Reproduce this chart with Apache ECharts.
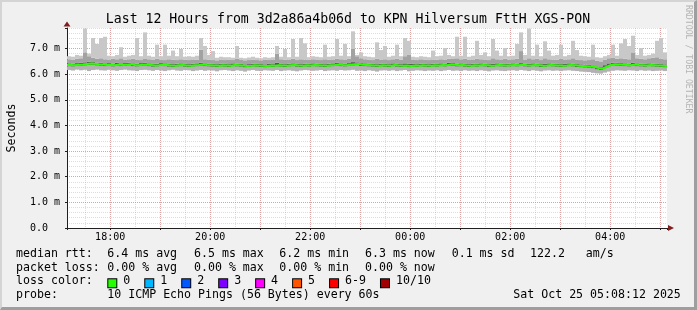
<!DOCTYPE html>
<html><head><meta charset="utf-8">
<script src="https://cdn.jsdelivr.net/npm/echarts@6/dist/echarts.min.js"></script>
<style>
html,body{margin:0;padding:0;background:#f0f0f0;}
#wrap{position:relative;width:697px;height:310px;overflow:hidden;}
#chart{position:absolute;left:0;top:0;width:697px;height:310px;}
#frame{position:absolute;left:0;top:0;width:697px;height:310px;box-sizing:border-box;border-style:solid;border-width:2px 3px 3px 2px;border-color:#d4d4d4 #9e9e9e #9e9e9e #d4d4d4;pointer-events:none;}
</style></head>
<body><div id="wrap"><div id="chart"></div><div id="frame"></div></div>
<script>
// time in hours after Oct 24 00:00 ; 17:08:12 -> 05:08:12 next day
const START = 17 + 8/60 + 12/3600;
const END = START + 12;
const STEP = 0.08; // 4.8 minutes per sample

const medianRtt = [
6.36,6.35,6.37,6.38,6.40,6.42,6.41,6.39,6.38,6.36,
6.37,6.35,6.38,6.36,6.37,6.39,6.36,6.35,6.37,6.38,
6.36,6.34,6.35,6.37,6.36,6.34,6.33,6.35,6.36,6.34,
6.33,6.35,6.36,6.38,6.36,6.35,6.34,6.33,6.35,6.34,
6.33,6.36,6.35,6.34,6.32,6.33,6.35,6.34,6.33,6.32,
6.34,6.33,6.35,6.34,6.33,6.35,6.36,6.34,6.33,6.35,
6.34,6.36,6.35,6.34,6.33,6.35,6.36,6.38,6.36,6.35,
6.37,6.39,6.40,6.37,6.36,6.35,6.34,6.33,6.35,6.34,
6.33,6.36,6.34,6.33,6.34,6.32,6.34,6.33,6.35,6.34,
6.33,6.35,6.34,6.36,6.35,6.38,6.37,6.35,6.36,6.34,
6.33,6.35,6.34,6.36,6.35,6.33,6.34,6.36,6.35,6.34,
6.35,6.36,6.35,6.37,6.35,6.34,6.36,6.35,6.33,6.34,
6.36,6.35,6.34,6.33,6.34,6.36,6.35,6.33,6.32,6.31,
6.30,6.28,6.24,6.22,6.29,6.36,6.39,6.38,6.37,6.36,
6.35,6.38,6.36,6.35,6.34,6.36,6.35,6.34,6.33,6.32];

const pingMin = [
6.16,6.14,6.18,6.15,6.17,6.12,6.16,6.18,6.15,6.14,
6.17,6.15,6.13,6.16,6.18,6.15,6.14,6.12,6.16,6.17,
6.15,6.13,6.16,6.14,6.12,6.15,6.17,6.14,6.13,6.16,
6.15,6.12,6.14,6.16,6.13,6.15,6.14,6.11,6.15,6.16,
6.14,6.12,6.15,6.13,6.10,6.14,6.16,6.13,6.12,6.15,
6.14,6.13,6.16,6.12,6.14,6.15,6.13,6.11,6.14,6.16,
6.15,6.13,6.14,6.16,6.12,6.14,6.15,6.13,6.16,6.14,
6.15,6.17,6.13,6.14,6.12,6.15,6.13,6.10,6.14,6.15,
6.13,6.15,6.12,6.14,6.16,6.11,6.13,6.15,6.14,6.12,
6.14,6.13,6.15,6.12,6.14,6.16,6.13,6.14,6.12,6.15,
6.13,6.14,6.12,6.15,6.13,6.11,6.14,6.15,6.13,6.12,
6.14,6.15,6.13,6.16,6.14,6.12,6.15,6.13,6.11,6.14,
6.15,6.13,6.14,6.12,6.14,6.15,6.13,6.12,6.10,6.09,
6.08,6.05,6.03,6.02,6.06,6.10,6.13,6.15,6.14,6.13,
6.15,6.14,6.12,6.15,6.13,6.14,6.12,6.13,6.14,6.12];

const pingQ1 = [
6.31,6.30,6.32,6.33,6.34,6.36,6.36,6.34,6.33,6.31,
6.32,6.30,6.33,6.31,6.32,6.34,6.31,6.30,6.32,6.33,
6.31,6.29,6.30,6.32,6.31,6.29,6.28,6.30,6.31,6.29,
6.28,6.30,6.31,6.33,6.31,6.30,6.29,6.28,6.30,6.29,
6.28,6.31,6.30,6.29,6.27,6.28,6.30,6.29,6.28,6.27,
6.29,6.28,6.30,6.29,6.28,6.30,6.31,6.29,6.28,6.30,
6.29,6.31,6.30,6.29,6.28,6.30,6.31,6.33,6.31,6.30,
6.32,6.34,6.35,6.32,6.31,6.30,6.29,6.28,6.30,6.29,
6.28,6.31,6.29,6.28,6.29,6.27,6.29,6.28,6.30,6.29,
6.28,6.30,6.29,6.31,6.30,6.33,6.32,6.30,6.31,6.29,
6.28,6.30,6.29,6.31,6.30,6.28,6.29,6.31,6.30,6.29,
6.30,6.31,6.30,6.32,6.30,6.29,6.31,6.30,6.28,6.29,
6.31,6.30,6.29,6.28,6.29,6.31,6.30,6.28,6.27,6.26,
6.25,6.23,6.19,6.17,6.24,6.31,6.34,6.33,6.32,6.31,
6.30,6.33,6.31,6.30,6.29,6.31,6.30,6.29,6.28,6.27];

const pingQ3 = [
6.42,6.41,6.43,6.44,6.46,6.49,6.47,6.45,6.44,6.42,
6.43,6.41,6.44,6.42,6.43,6.45,6.42,6.41,6.43,6.44,
6.42,6.40,6.41,6.43,6.42,6.40,6.39,6.41,6.42,6.40,
6.39,6.41,6.42,6.45,6.42,6.41,6.40,6.39,6.41,6.40,
6.39,6.42,6.41,6.40,6.38,6.39,6.41,6.40,6.39,6.38,
6.40,6.39,6.44,6.40,6.39,6.41,6.42,6.40,6.39,6.41,
6.40,6.42,6.41,6.40,6.39,6.41,6.42,6.44,6.42,6.41,
6.43,6.47,6.46,6.43,6.42,6.41,6.40,6.39,6.41,6.40,
6.39,6.42,6.40,6.39,6.42,6.40,6.40,6.39,6.41,6.40,
6.39,6.41,6.40,6.42,6.41,6.44,6.43,6.41,6.42,6.40,
6.39,6.41,6.40,6.42,6.41,6.39,6.40,6.42,6.41,6.40,
6.41,6.42,6.41,6.43,6.41,6.40,6.42,6.41,6.39,6.40,
6.42,6.41,6.40,6.39,6.40,6.42,6.41,6.39,6.38,6.37,
6.36,6.34,6.30,6.28,6.35,6.42,6.45,6.44,6.43,6.42,
6.41,6.44,6.42,6.41,6.40,6.42,6.41,6.40,6.39,6.38];

const pingHi = [
6.58,6.56,6.60,6.62,6.85,6.70,6.64,6.60,6.62,6.58,
6.57,6.60,6.58,6.62,6.56,6.58,6.60,6.57,6.55,6.59,
6.58,6.56,6.60,6.57,6.55,6.58,6.56,6.55,6.58,6.56,
6.55,6.57,6.56,6.95,6.58,6.56,6.55,6.54,6.57,6.55,
6.56,6.55,6.60,6.57,6.54,6.55,6.56,6.55,6.54,6.56,
6.55,6.57,6.80,6.58,6.56,6.57,6.60,6.55,6.58,6.57,
6.56,6.58,6.57,6.55,6.58,6.56,6.57,6.60,6.58,6.57,
6.60,6.98,6.70,6.62,6.58,6.56,6.55,6.60,6.57,6.58,
6.55,6.58,6.60,6.56,6.70,6.75,6.57,6.55,6.58,6.56,
6.55,6.57,6.56,6.58,6.57,6.60,6.59,6.62,6.58,6.60,
6.56,6.57,6.60,6.58,6.57,6.55,6.62,6.58,6.57,6.60,
6.57,6.58,6.60,6.90,6.57,6.62,6.58,6.60,6.55,6.62,
6.58,6.57,6.56,6.60,6.57,6.58,6.62,6.57,6.55,6.54,
6.55,6.58,6.52,6.50,6.56,6.62,6.65,6.60,6.62,6.60,
6.58,6.85,6.62,6.60,6.58,6.62,6.64,6.66,6.60,6.58];

const pingMax = [
6.70,6.68,6.75,6.72,7.78,6.80,7.41,7.18,7.41,7.46,
6.72,6.70,6.75,7.05,6.68,6.72,6.75,7.41,6.70,7.63,
6.72,6.68,7.15,6.70,7.15,6.72,6.92,6.70,6.98,6.68,
6.70,6.68,6.72,7.41,7.10,6.75,6.90,6.64,6.68,6.66,
6.66,6.64,7.10,6.64,6.62,6.65,6.68,6.64,6.62,6.66,
6.64,6.66,7.10,6.68,6.98,6.66,7.37,6.68,7.41,7.20,
6.66,6.70,6.68,6.66,7.15,6.68,6.70,7.37,6.72,7.18,
6.70,7.67,6.75,6.85,6.70,6.68,6.66,7.24,6.94,7.10,
6.68,6.72,7.15,6.70,7.41,7.30,6.68,6.66,6.70,6.68,
6.66,6.92,6.70,6.72,7.02,6.75,6.70,7.46,6.72,7.46,
6.68,6.72,7.30,6.75,6.85,6.70,7.37,6.92,6.72,7.02,
6.70,6.72,7.18,7.63,6.75,7.78,6.72,7.15,6.70,7.28,
6.92,6.72,6.75,7.15,6.70,6.75,7.30,6.94,6.72,6.70,
6.68,7.15,6.66,6.64,6.70,6.75,7.15,6.72,7.20,7.37,
7.10,7.50,6.75,7.02,6.72,6.75,6.80,7.30,7.41,6.85];

const xTickLabels = ['18:00','20:00','22:00','00:00','02:00','04:00'];
const titleText = 'Last 12 Hours from 3d2a86a4b06d to KPN Hilversum FttH XGS-PON';
const yAxisName = 'Seconds';
const rttLabel = 'median rtt:';
const rttStats = ['6.4 ms avg','6.5 ms max','6.2 ms min','6.3 ms now','0.1 ms sd','122.2   am/s'];
const lossLabel = 'packet loss:';
const lossStats = ['0.00 % avg','0.00 % max','0.00 % min','0.00 % now'];
const colorLabel = 'loss color:';
const lossColorNames = ['0','1','2','3','4','5','6-9','10/10'];
const lossColorValues = ['#26ff00','#00b8ff','#0059ff','#7e00ff','#ff00ff','#ff5500','#ff0000','#a10000'];
const probeLabel = 'probe:';
const probeText = '10 ICMP Echo Pings (56 Bytes) every 60s';
const dateText = 'Sat Oct 25 05:08:12 2025';
const watermark = 'RRDTOOL / TOBI OETIKER';

const FONT = "'DejaVu Sans Mono', monospace";
const LEG = 11.6;

// build tables for the library
const smokeRows = pingMin.map((v, i) => [START + i * STEP, v, pingQ1[i], pingQ3[i], pingHi[i], pingMax[i]]);
const medianPts = medianRtt.map((v, i) => [START + i * STEP, v]);
medianPts.push([END, medianRtt[medianRtt.length - 1]]);

const bandColors = ['#b2b2b2', '#555555', '#a2a2a2', '#c8c8c8'];

const chart = echarts.init(document.getElementById('chart'), null, {renderer: 'canvas'});

const minorGrid = {color: 'rgba(143,143,143,0.30)', type: [1, 1], width: 1};
const majorGrid = {color: 'rgba(222,80,80,0.40)', type: [1, 1], width: 1};

const colX = [107.3, 194, 279.3, 365, 451.7, 530];
const rowY = [253.7, 268, 281.3, 295.3];

const graphics = [];
graphics.push({type: 'text', x: 348, y: 19.4, silent: true,
  style: {text: titleText, fontFamily: FONT, fontSize: 13.2, fill: '#000', align: 'center', verticalAlign: 'middle'}});
graphics.push({type: 'text', x: 688, y: 5, rotation: -Math.PI / 2, silent: true,
  style: {text: watermark, fontFamily: FONT, fontSize: 8.2, fill: '#b4b4b4', align: 'left', verticalAlign: 'middle'}});
function legText(txt, x, y) {
  graphics.push({type: 'text', x: x, y: y, silent: true,
    style: {text: txt, fontFamily: FONT, fontSize: LEG, fill: '#000', align: 'left', verticalAlign: 'middle'}});
}
legText(rttLabel, 16, rowY[0]);
rttStats.forEach((s, i) => legText(s, colX[i], rowY[0]));
legText(lossLabel, 16, rowY[1]);
lossStats.forEach((s, i) => legText(s, colX[i], rowY[1]));
legText(colorLabel, 16, rowY[2]);
// loss colour boxes as rich text
const rich = {t: {fontFamily: FONT, fontSize: LEG, fill: '#000'}, gap: {width: 15}};
let richStr = '';
lossColorNames.forEach((n, i) => {
  rich['b' + i] = {width: 8, height: 8, backgroundColor: lossColorValues[i], borderColor: '#000', borderWidth: 1, verticalAlign: 'bottom'};
  richStr += '{b' + i + '| }{t| ' + n + '}' + (i < lossColorNames.length - 1 ? '{gap| }' : '');
});
graphics.push({type: 'text', x: 108.3, y: rowY[2], silent: true,
  style: {text: richStr, rich: rich, fontFamily: FONT, fontSize: LEG, fill: '#000', align: 'left', verticalAlign: 'middle'}});
legText(probeLabel, 16, rowY[3]);
legText(probeText, colX[0], rowY[3]);
legText(dateText, 513.3, rowY[3]);

const option = {
  animation: false,
  backgroundColor: '#f0f0f0',
  grid: {left: 67, top: 28, width: 600, height: 200, containLabel: false, outerBoundsMode: 'none',
    backgroundColor: '#fff', show: true, borderWidth: 0},
  xAxis: [
    {type: 'value', position: 'bottom', min: START, max: END, minInterval: 0.5, maxInterval: 0.5,
      axisLine: {show: false}, axisTick: {show: false}, axisLabel: {show: false},
      splitLine: {show: true, showMinLine: false, showMaxLine: false, lineStyle: minorGrid}},
    {type: 'value', position: 'bottom', min: START, max: END, minInterval: 1, maxInterval: 1,
      axisLine: {show: true, onZero: false, lineStyle: {color: '#1f1f1f', width: 1}},
      axisTick: {show: true, length: 2, lineStyle: {color: '#1f1f1f'}},
      axisLabel: {show: true, margin: 4, fontFamily: FONT, fontSize: 10, color: '#000',
        formatter: function (v) {
          const h = Math.round(v);
          if (Math.abs(v - h) < 1e-6 && (h - 18) % 2 === 0 && h >= 18) return xTickLabels[(h - 18) / 2] || '';
          return '';
        }},
      splitLine: {show: true, showMinLine: false, showMaxLine: false, lineStyle: majorGrid}},
    {type: 'value', position: 'bottom', min: START, max: END,
      axisLine: {show: true, onZero: false, symbol: ['none', 'triangle'], symbolSize: [6, 6], symbolOffset: [0, 4],
        lineStyle: {color: '#7f1f1f', width: 0}},
      axisTick: {show: false}, axisLabel: {show: false}, splitLine: {show: false}}
  ],
  yAxis: [
    {type: 'value', position: 'left', min: 0, max: 7.8, interval: 0.2,
      axisLine: {show: false}, axisTick: {show: false}, axisLabel: {show: false},
      splitLine: {show: true, showMinLine: false, showMaxLine: true, lineStyle: minorGrid}},
    {type: 'value', position: 'left', min: 0, max: 7.8, interval: 1,
      name: yAxisName, nameLocation: 'middle', nameRotate: 90, nameGap: 49,
      nameTextStyle: {fontFamily: FONT, fontSize: 11.6, color: '#000'},
      axisLine: {show: true, onZero: false, lineStyle: {color: '#1f1f1f', width: 1}},
      axisTick: {show: true, length: 2, lineStyle: {color: '#1f1f1f'}},
      axisLabel: {show: true, align: 'left', margin: 37, fontFamily: FONT, fontSize: 10, color: '#000',
        formatter: function (v) {
          const r = Math.round(v);
          if (Math.abs(v - r) > 1e-6) return '';
          return r === 0 ? '0.0' : r.toFixed(1) + ' m';
        }},
      splitLine: {show: true, showMinLine: false, showMaxLine: false, lineStyle: majorGrid}},
    {type: 'value', position: 'left', min: 0, max: 7.8,
      axisLine: {show: true, onZero: false, symbol: ['none', 'triangle'], symbolSize: [7, 5], symbolOffset: [0, 4],
        lineStyle: {color: '#7f1f1f', width: 0}},
      axisTick: {show: false}, axisLabel: {show: false}, splitLine: {show: false}}
  ],
  series: [
    {type: 'custom', name: 'smoke', xAxisIndex: 1, yAxisIndex: 1, clip: true, silent: true, z: 2,
      data: smokeRows,
      encode: {x: 0, y: [1, 2, 3, 4, 5]},
      renderItem: function (params, api) {
        const t = api.value(0);
        const x0 = api.coord([t, 0])[0];
        const x1 = api.coord([t + STEP, 0])[0];
        const children = [];
        for (let k = 1; k <= 4; k++) {
          const yLo = api.coord([t, api.value(k)])[1];
          const yHi = api.coord([t, api.value(k + 1)])[1];
          children.push({type: 'rect', shape: {x: x0, y: yHi, width: x1 - x0, height: yLo - yHi},
            style: {fill: bandColors[k - 1]}});
        }
        return {type: 'group', children: children};
      }},
    {type: 'line', name: 'median', xAxisIndex: 1, yAxisIndex: 1, step: 'end', symbol: 'none', showSymbol: false,
      silent: true, z: 3, clip: true, data: medianPts, lineStyle: {color: '#2bff00', width: 2}}
  ],
  graphic: graphics
};
chart.setOption(option);
</script>
</body></html>
